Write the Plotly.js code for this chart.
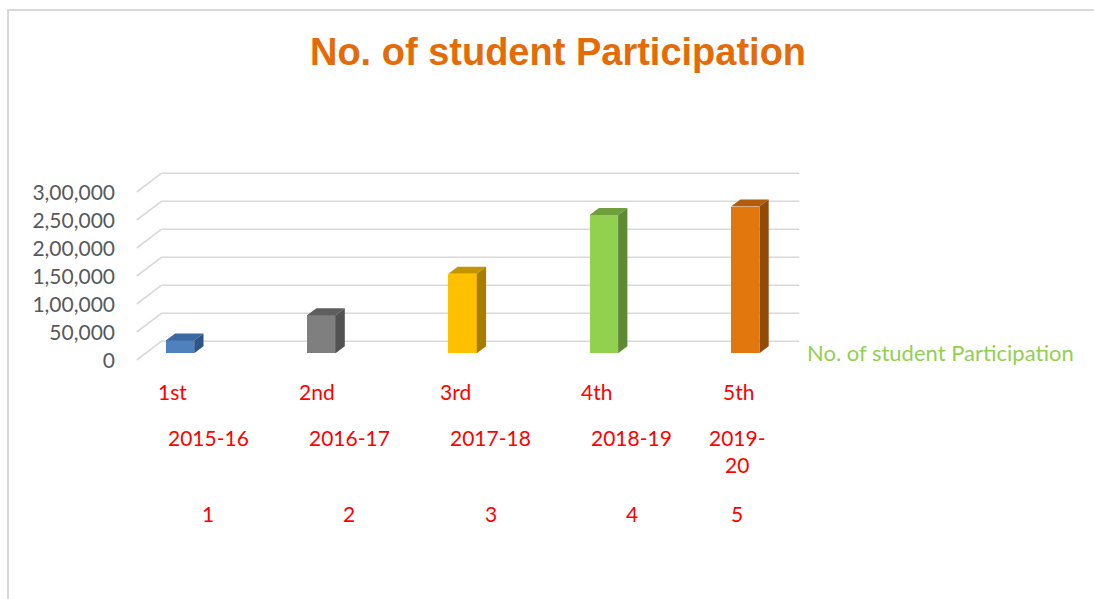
<!DOCTYPE html>
<html>
<head>
<meta charset="utf-8">
<script src="https://cdn.plot.ly/plotly-3.0.1.min.js"></script>
<style>
  html, body { margin: 0; padding: 0; background: #ffffff; overflow: hidden; }
  #frame { position: absolute; left: 7px; top: 9px; width: 2000px; height: 2000px;
           border-left: 2px solid #d9d9d9; border-top: 2px solid #d9d9d9; }
  #chart { position: absolute; left: 0; top: 0; width: 1094px; height: 599px; }
</style>
</head>
<body>
<div id="frame"></div>
<div id="chart"></div>
<script>
// ---------- data ----------
const rankLabels = ['1st', '2nd', '3rd', '4th', '5th'];
const yearLabels = ['2015-16', '2016-17', '2017-18', '2018-19', '2019-<br>20'];
const indexLabels = ['1', '2', '3', '4', '5'];
const participation = [23000, 68000, 142000, 247000, 262000];
const yTickValues = [0, 50000, 100000, 150000, 200000, 250000, 300000];
const yTickLabels = ['0', '50,000', '1,00,000', '1,50,000', '2,00,000', '2,50,000', '3,00,000'];
const seriesName = 'No. of student Participation';
const chartTitle = 'No. of student Participation';

// ---------- styles ----------
const frontColors = ['#4F81BD', '#7F7F7F', '#FFC000', '#92D050', '#E2770D'];
const topColors   = ['#3D69A3', '#5E5E5E', '#C49300', '#6F9E3C', '#B35C0A'];
const sideColors  = ['#2F5488', '#525252', '#A67D00', '#5F8A34', '#914B09'];

// ---------- geometry (pixels) ----------
const W = 1094, H = 599;
const plotL = 130, plotR = 805, plotT = 150, plotB = 380;
const bar0Px = 180, catPx = 141.3, basePx = 353.3, px50k = 28;
const unitPerPx = 50000 / px50k;
const xOf = px => (px - bar0Px) / catPx;
const yOf = py => (basePx - py) * unitPerPx;
const yPaper = py => (plotB - py) / (plotB - plotT);

const barW = 28.4 / catPx;
const dX = 9.3 / catPx, dY = 7 * unitPerPx;
const backOff = 12 * unitPerPx;     // back wall baseline above bar base
const frontOff = -6.7 * unitPerPx;  // front floor edge below bar base
const backLeftX = xOf(161.3), backRightX = xOf(799), frontLeftX = xOf(136.7);

const traces = [];
// front faces
traces.push({
  type: 'bar', x: participation.map((v, i) => i), y: participation,
  width: barW, marker: { color: frontColors, line: { width: 0 } },
  name: seriesName, showlegend: false, hoverinfo: 'y'
});
// top and side faces
participation.forEach((v, i) => {
  const xl = i - barW / 2, xr = i + barW / 2;
  traces.push({
    type: 'scatter', mode: 'lines', fill: 'toself', fillcolor: topColors[i],
    line: { width: 0, color: topColors[i] }, hoverinfo: 'skip', showlegend: false,
    x: [xl, xr, xr + dX, xl + dX, xl], y: [v, v, v + dY, v + dY, v]
  });
  traces.push({
    type: 'scatter', mode: 'lines', fill: 'toself', fillcolor: sideColors[i],
    line: { width: 0, color: sideColors[i] }, hoverinfo: 'skip', showlegend: false,
    x: [xr, xr + dX, xr + dX, xr, xr], y: [0, dY, v + dY, v, 0]
  });
});

// back-wall gridlines and side-wall diagonals
const shapes = [];
yTickValues.forEach(v => {
  shapes.push({ type: 'line', xref: 'x', yref: 'y', layer: 'below',
    x0: backLeftX, x1: backRightX, y0: v + backOff, y1: v + backOff,
    line: { color: '#d9d9d9', width: 1.6 } });
  shapes.push({ type: 'line', xref: 'x', yref: 'y', layer: 'below',
    x0: frontLeftX, x1: backLeftX, y0: v + frontOff, y1: v + backOff,
    line: { color: '#d9d9d9', width: 1.6 } });
});

// category label rows
const annotations = [];
const catFont = { family: 'Lato, Carlito, sans-serif', size: 21, color: '#FF0000' };
rankLabels.forEach((t, i) => {
  annotations.push({ text: t, xref: 'x', yref: 'paper', x: i + xOf(bar0Px - 24.5), y: yPaper(391),
    xanchor: 'left', yanchor: 'middle', showarrow: false, font: catFont });
});
yearLabels.forEach((t, i) => {
  const last = i === yearLabels.length - 1;
  const cx = i + (last ? xOf(bar0Px - 8) : xOf(bar0Px + 28));
  annotations.push({ text: t, xref: 'x', yref: 'paper', x: cx, y: yPaper(last ? 451 : 437),
    xanchor: 'center', yanchor: 'middle', showarrow: false, font: catFont });
});
indexLabels.forEach((t, i) => {
  const last = i === indexLabels.length - 1;
  const cx = i + (last ? xOf(bar0Px - 8) : xOf(bar0Px + 28));
  annotations.push({ text: t, xref: 'x', yref: 'paper', x: cx, y: yPaper(513),
    xanchor: 'center', yanchor: 'middle', showarrow: false, font: catFont });
});
// legend text
annotations.push({ text: seriesName, xref: 'paper', yref: 'paper',
  x: (805 - plotL) / (plotR - plotL), y: yPaper(352), xanchor: 'left', yanchor: 'middle',
  showarrow: false, font: { family: 'Lato, Carlito, sans-serif', size: 22, color: '#92D050' } });

const layout = {
  width: W, height: H,
  margin: { l: plotL, r: W - plotR, t: plotT, b: H - plotB, pad: 0 },
  paper_bgcolor: 'rgba(0,0,0,0)', plot_bgcolor: 'rgba(0,0,0,0)',
  title: { text: chartTitle, xref: 'container', yref: 'container',
    x: 558 / W, xanchor: 'center', y: 1 - 52 / H, yanchor: 'middle',
    font: { family: 'Liberation Sans, Arial, sans-serif', size: 38, weight: 'bold', color: '#E36C09' } },
  xaxis: { range: [xOf(plotL), xOf(plotR)], showgrid: false, zeroline: false,
    showticklabels: false, ticks: '', showline: false, fixedrange: true },
  yaxis: { range: [yOf(plotB), yOf(plotT)], showgrid: false, zeroline: false, showline: false,
    tickmode: 'array', tickvals: yTickValues.map(v => v + frontOff - 1 * unitPerPx), ticktext: yTickLabels,
    ticks: '', ticklabelstandoff: 14,
    tickfont: { family: 'Lato, Carlito, sans-serif', size: 21, color: '#595959' }, fixedrange: true },
  shapes: shapes, annotations: annotations, showlegend: false, bargap: 0
};

Plotly.newPlot('chart', traces, layout, { displayModeBar: false, staticPlot: true });
</script>
</body>
</html>
